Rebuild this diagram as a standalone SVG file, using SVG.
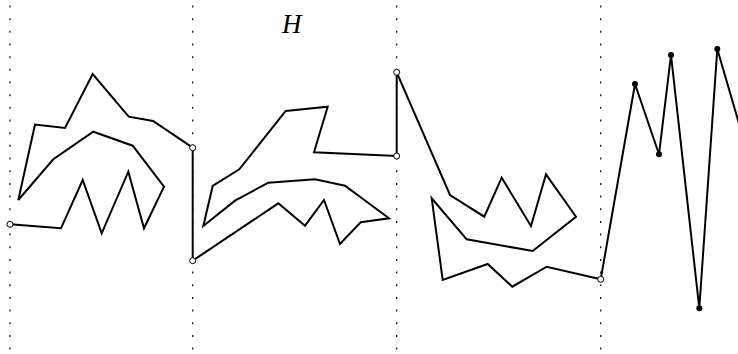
<svg xmlns="http://www.w3.org/2000/svg" width="738" height="354" viewBox="0 0 738 354">
<style>
.grid{stroke:#000;stroke-width:1.2;stroke-dasharray:2 10.67;stroke-dashoffset:-5.5;fill:none}
.curve{stroke:#000;stroke-width:2;fill:none;stroke-linejoin:miter;stroke-miterlimit:4}
.open{fill:#fff;stroke:#000;stroke-width:1}
.dot{fill:#000}
.lbl{font-family:"Liberation Serif",serif;font-style:italic;font-size:27px;fill:#000}
</style>
<rect width="738" height="354" fill="#fff"/>
<g id="grid">
<line class="grid" x1="10" y1="0" x2="10" y2="354"/>
<line class="grid" x1="192.7" y1="0" x2="192.7" y2="354"/>
<line class="grid" x1="396.7" y1="0" x2="396.7" y2="354"/>
<line class="grid" x1="600.7" y1="0" x2="600.7" y2="354"/>
</g>
<g id="connectors">
<polyline class="curve" points="192.7,147.7 153,121 128.7,116.7 92.7,74 65,128 35,124.5 18.3,200 53.3,159.3 93.3,131.7 132.7,145.7 164,186.7 144,228.3 128.3,171.7 101.7,233.3 82.7,180 61,228.3 10,224.3"/>
<polyline class="curve" points="192.7,147.7 192.7,260.7 278.3,203.3 305,225.7 324,200 340,244 360.7,222.3 389,218.3 345,185.7 315,179.3 268.3,182.7 235,200.7 203.3,226 212.7,186 239.3,169.3 285.7,111 327.7,106.7 314,152.3 396.7,156 396.7,72.3"/>
<polyline class="curve" points="396.7,72.3 450,195 484.3,216.7 501.7,177.7 531,226 546,174.3 576,216.7 532.7,251 466.7,239.3 431.7,198.3 442.7,280 487.7,264 512.3,286.7 546.7,266.7 600.7,279.3"/>
<polyline class="curve" points="600.7,279.3 635,84 659,154.3 671,55 699.3,308.3 717.3,49 740,127"/>
</g>
<g id="nodes">
<circle class="open" cx="10" cy="224.3" r="3"/>
<circle class="open" cx="192.7" cy="147.7" r="3"/>
<circle class="open" cx="192.7" cy="260.7" r="3"/>
<circle class="open" cx="396.7" cy="156" r="3"/>
<circle class="open" cx="396.7" cy="72.3" r="3"/>
<circle class="open" cx="600.7" cy="279.3" r="3"/>
<circle class="dot" cx="635" cy="84" r="3"/>
<circle class="dot" cx="659" cy="154.3" r="3"/>
<circle class="dot" cx="671" cy="55" r="3"/>
<circle class="dot" cx="699.3" cy="308.3" r="3"/>
<circle class="dot" cx="717.3" cy="49" r="3"/>
</g>
<g id="label">
<text class="lbl" x="282" y="33">H</text>
</g>
</svg>
